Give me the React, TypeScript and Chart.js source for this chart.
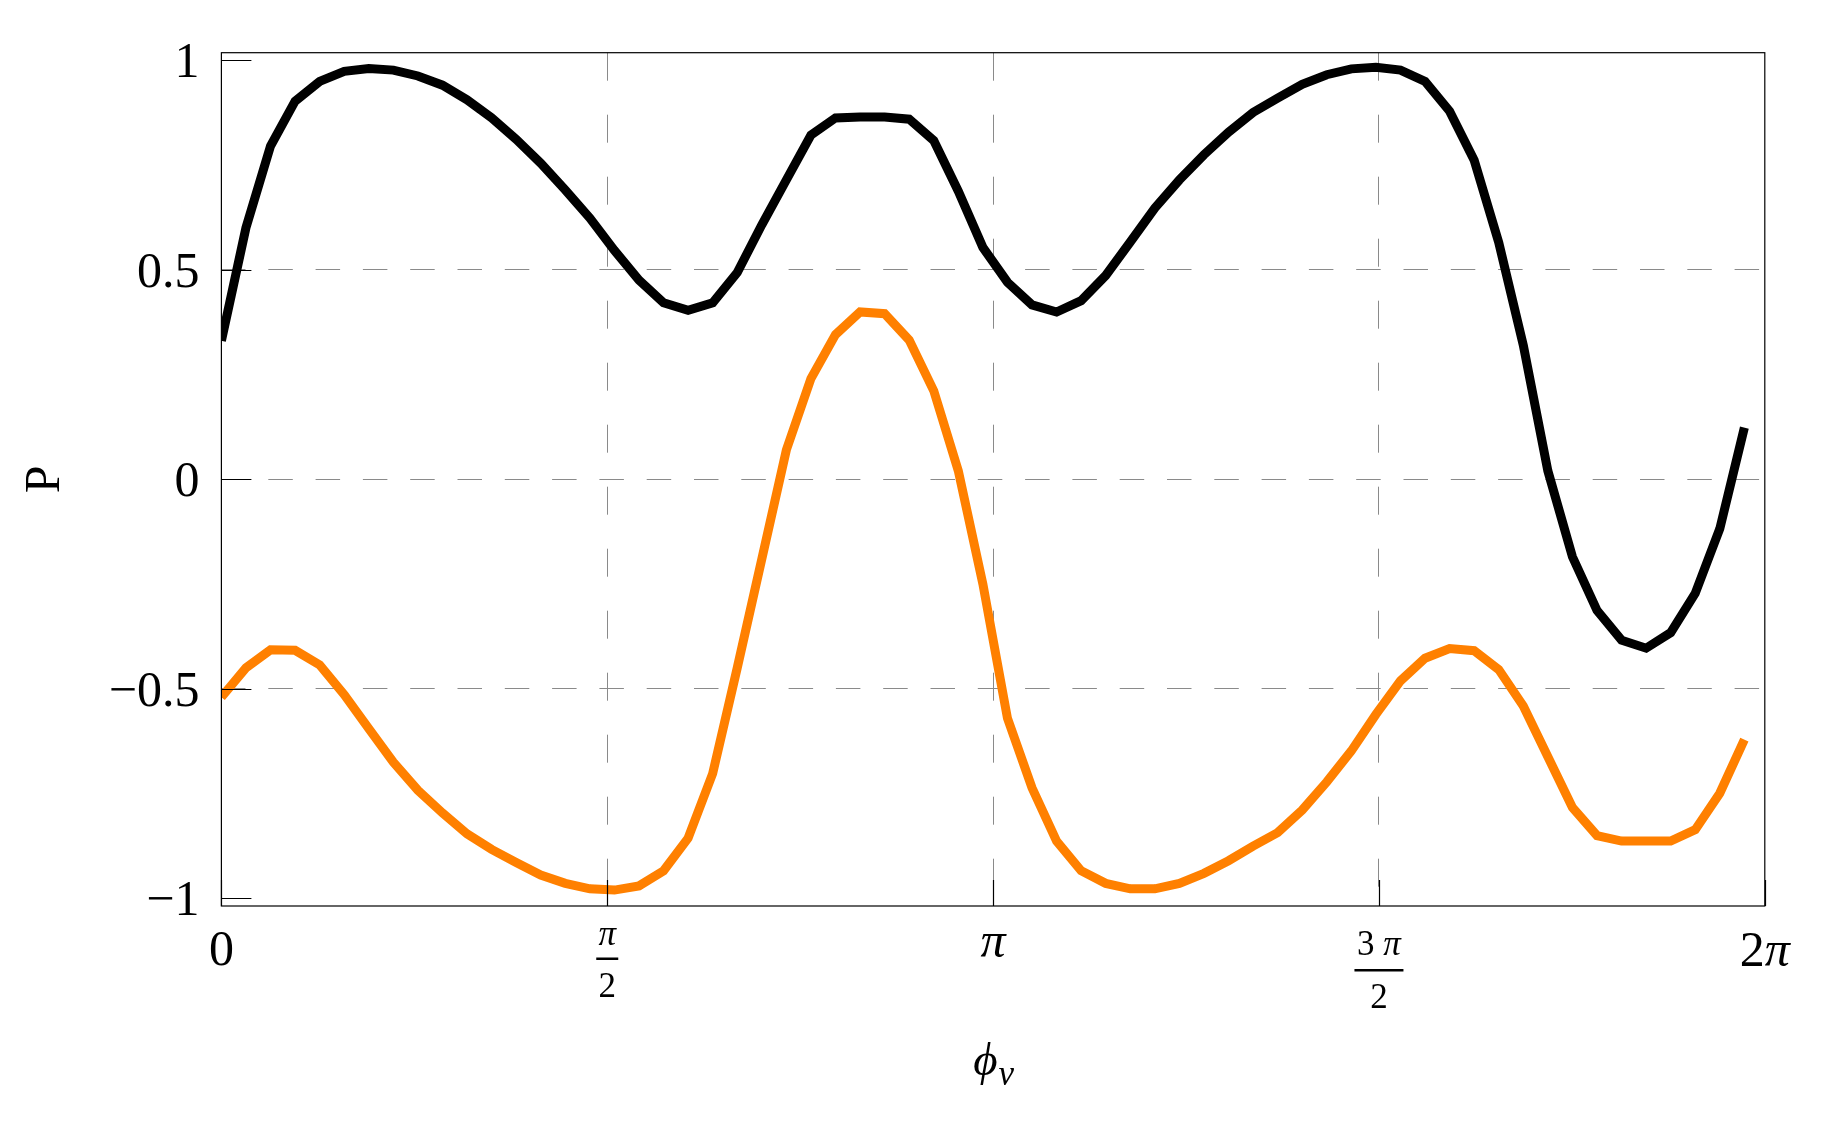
import React, { useEffect, useRef } from "react";
import { Chart, registerables } from "chart.js";

Chart.register(...registerables);

// Sample spacing of the phase phi_nu (radians)
const PHI_STEP = 0.1;

// P for the black curve, sampled at phi = 0, 0.1, ..., 6.2
const blackP = [
  0.33, 0.6, 0.795, 0.902, 0.949, 0.973, 0.98, 0.976, 0.962, 0.94,
  0.905, 0.862, 0.811, 0.754, 0.69, 0.623, 0.546, 0.475, 0.421, 0.403,
  0.421, 0.493, 0.607, 0.714, 0.821, 0.862, 0.864, 0.864, 0.859, 0.808,
  0.687, 0.553, 0.47, 0.416, 0.399, 0.426, 0.486, 0.566, 0.647, 0.714,
  0.774, 0.828, 0.875, 0.909, 0.942, 0.965, 0.979, 0.983, 0.976, 0.949,
  0.878, 0.761, 0.565, 0.32, 0.02, -0.185, -0.313, -0.384, -0.403, -0.366,
  -0.272, -0.118, 0.123,
];

// P for the orange curve, same phi samples
const orangeP = [
  -0.52, -0.45, -0.407, -0.408, -0.443, -0.514, -0.595, -0.675, -0.742, -0.796,
  -0.846, -0.883, -0.914, -0.944, -0.964, -0.977, -0.98, -0.97, -0.934, -0.856,
  -0.702, -0.45, -0.19, 0.07, 0.24, 0.345, 0.399, 0.395, 0.332, 0.211,
  0.02, -0.25, -0.57, -0.736, -0.863, -0.934, -0.964, -0.977, -0.977, -0.964,
  -0.94, -0.91, -0.875, -0.843, -0.789, -0.722, -0.648, -0.561, -0.481, -0.427,
  -0.404, -0.409, -0.454, -0.541, -0.662, -0.783, -0.85, -0.863, -0.863, -0.863,
  -0.836, -0.749, -0.621,
];

const yTicks = [-1, -0.5, 0, 0.5, 1];
const yTickLabels = ["\u22121", "\u22120.5", "0", "0.5", "1"];
const xTicks = [0, Math.PI / 2, Math.PI, (3 * Math.PI) / 2, 2 * Math.PI];

const Y_MIN = -1.018;
const Y_MAX = 1.0175;

const SERIF = '"Liberation Serif", "Times New Roman", "DejaVu Serif", serif';

const framePlugin = {
  id: "mmaFrame",
  afterDraw(chart: any) {
    const { ctx, chartArea: ca, scales } = chart;
    const xs = scales.x;
    const ys = scales.y;
    ctx.save();
    ctx.strokeStyle = "#000";
    ctx.fillStyle = "#000";
    ctx.lineWidth = 1.2;
    ctx.strokeRect(ca.left, ca.top, ca.right - ca.left, ca.bottom - ca.top);

    // ticks (inside the frame)
    ctx.beginPath();
    yTicks.forEach((v) => {
      const y = Math.round(ys.getPixelForValue(v)) + 0.5;
      ctx.moveTo(ca.left, y);
      ctx.lineTo(ca.left + 30, y);
    });
    xTicks.forEach((v) => {
      const x = Math.round(xs.getPixelForValue(v)) + 0.5;
      ctx.moveTo(x, ca.bottom);
      ctx.lineTo(x, ca.bottom - 26);
    });
    ctx.stroke();

    // y tick labels
    ctx.font = `50px ${SERIF}`;
    ctx.textAlign = "right";
    ctx.textBaseline = "alphabetic";
    yTicks.forEach((v, i) => {
      ctx.fillText(yTickLabels[i], ca.left - 22, ys.getPixelForValue(v) + 17);
    });

    // x tick labels
    const b = ca.bottom;
    const up = `50px ${SERIF}`;
    const it = `italic 50px ${SERIF}`;
    const fUp = `35px ${SERIF}`;
    const fIt = `italic 35px ${SERIF}`;
    ctx.textAlign = "left";

    const drawRuns = (runs: [string, string][], cx: number, baseline: number) => {
      let w = 0;
      runs.forEach(([t, f]) => {
        ctx.font = f;
        w += ctx.measureText(t).width;
      });
      let x = cx - w / 2;
      runs.forEach(([t, f]) => {
        ctx.font = f;
        ctx.fillText(t, x, baseline);
        x += ctx.measureText(t).width;
      });
      return w;
    };

    // 0
    drawRuns([["0", up]], xs.getPixelForValue(xTicks[0]), b + 59);
    // pi/2
    {
      const cx = xs.getPixelForValue(xTicks[1]);
      drawRuns([["\u03c0", fIt]], cx, b + 39);
      ctx.fillRect(cx - 11, b + 51.5, 22, 2.5);
      drawRuns([["2", fUp]], cx, b + 91);
    }
    // pi
    drawRuns([["\u03c0", it]], xs.getPixelForValue(xTicks[2]), b + 51);
    // 3pi/2
    {
      const cx = xs.getPixelForValue(xTicks[3]);
      drawRuns([["3 ", fUp], ["\u03c0", fIt]], cx, b + 49);
      ctx.fillRect(cx - 24.5, b + 63, 49, 2.5);
      drawRuns([["2", fUp]], cx, b + 102);
    }
    // 2pi
    drawRuns([["2", up], ["\u03c0", it]], xs.getPixelForValue(xTicks[4]), b + 60);

    // x axis title: phi_nu
    {
      const cx = (ca.left + ca.right) / 2;
      const phi = "\u03d5";
      ctx.font = `italic 47px ${SERIF}`;
      const w1 = ctx.measureText(phi).width;
      ctx.font = `italic 35px ${SERIF}`;
      const w2 = ctx.measureText("\u03bd").width;
      const x0 = cx - (w1 + w2) / 2;
      ctx.font = `italic 47px ${SERIF}`;
      ctx.fillText(phi, x0, b + 169);
      ctx.font = `italic 35px ${SERIF}`;
      ctx.fillText("\u03bd", x0 + w1 + 1, b + 179);
    }

    // y axis title: P
    {
      const cy = (ca.top + ca.bottom) / 2;
      ctx.translate(43, cy);
      ctx.rotate(-Math.PI / 2);
      ctx.font = `50px ${SERIF}`;
      ctx.textAlign = "center";
      ctx.fillText("P", 0, 16);
    }
    ctx.restore();
  },
};

export default function App() {
  const ref = useRef<HTMLCanvasElement | null>(null);

  useEffect(() => {
    if (!ref.current) return;
    const gridColor = "#8a8a8a";
    const common = {
      borderWidth: 9,
      pointRadius: 0,
      tension: 0,
      fill: false,
      clip: 0,
      borderCapStyle: "butt",
      borderJoinStyle: "miter",
    };
    const chart = new Chart(ref.current, {
      type: "line",
      data: {
        datasets: [
          {
            label: "orange",
            data: orangeP.map((y, i) => ({ x: i * PHI_STEP, y })),
            borderColor: "#ff8000",
            ...common,
          },
          {
            label: "black",
            data: blackP.map((y, i) => ({ x: i * PHI_STEP, y })),
            borderColor: "#000000",
            ...common,
          },
        ],
      },
      options: {
        responsive: false,
        animation: false,
        devicePixelRatio: 1,
        events: [],
        layout: { padding: { left: 221.4, right: 63.2, top: 52.7, bottom: 218 } },
        plugins: { legend: { display: false }, tooltip: { enabled: false } },
        scales: {
          x: {
            type: "linear",
            min: 0,
            max: 2 * Math.PI,
            afterBuildTicks: (s: any) => {
              s.ticks = xTicks.map((v) => ({ value: v }));
            },
            afterFit: (s: any) => {
              s.height = 0;
            },
            ticks: { display: false },
            grid: {
              drawTicks: false,
              lineWidth: 1,
              color: (c: any) =>
                c.tick && (c.tick.value === 0 || c.tick.value === xTicks[4]) ? "rgba(0,0,0,0)" : gridColor,
            },
            border: { display: false, dash: [28, 34] },
          },
          y: {
            type: "linear",
            min: Y_MIN,
            max: Y_MAX,
            afterBuildTicks: (s: any) => {
              s.ticks = yTicks.map((v) => ({ value: v }));
            },
            afterFit: (s: any) => {
              s.width = 0;
            },
            ticks: { display: false },
            grid: {
              drawTicks: false,
              lineWidth: 1,
              color: (c: any) =>
                c.tick && Math.abs(c.tick.value) === 1 ? "rgba(0,0,0,0)" : gridColor,
            },
            border: { display: false, dash: [24.5, 22.8] },
          },
        },
      } as any,
      plugins: [framePlugin],
    });
    return () => chart.destroy();
  }, []);

  return (
    <div style={{ position: "fixed", left: 0, top: 0, width: 1828, height: 1124, background: "#fff" }}>
      <canvas ref={ref} width={1828} height={1124} style={{ display: "block" }} />
    </div>
  );
}
